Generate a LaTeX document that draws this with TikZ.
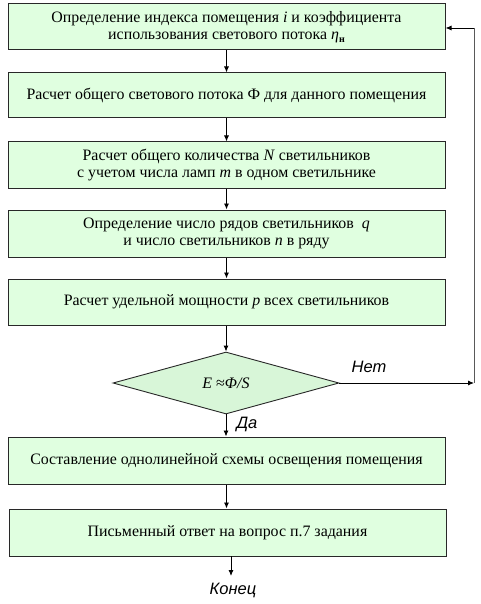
\documentclass[tikz,border=0pt]{standalone}
\usepackage{fontspec}
\setmainfont{Liberation Serif}
\setsansfont{Liberation Sans}
\usetikzlibrary{shapes.geometric,arrows.meta}
\definecolor{boxfill}{RGB}{224,255,224}
\definecolor{dfill}{RGB}{216,246,216}
\definecolor{edge}{RGB}{40,40,40}
\tikzset{
  stepbox/.style={draw=edge, line width=1pt, fill=boxfill, minimum width=437pt, inner sep=0pt, align=center, font=\fontsize{15.9}{17.5}\selectfont},
  decide/.style={draw=edge, line width=0.9pt, fill=dfill, shape=diamond, minimum width=226pt, minimum height=62pt, inner sep=0pt, font=\fontsize{16}{18}\selectfont},
  conn/.style={line width=0.9pt, draw=black, -{Latex[length=6pt,width=5pt]}},
  lbl/.style={font=\sffamily\itshape\fontsize{16.5}{18}\selectfont},
}
\begin{document}
\begin{tikzpicture}[x=1pt,y=-1pt]
\useasboundingbox (0,0) rectangle (480,604);
\node[stepbox, minimum height=46pt] (b1) at (226.5,27) {Определение индекса помещения \textit{i} и коэффициента\\использования светового потока \textit{η}\raisebox{-0.35ex}{\fontsize{10}{11}\selectfont\bfseries н}};
\node[stepbox, minimum height=45pt] (b2) at (226.5,95.5) {Расчет общего светового потока Ф для данного помещения};
\node[stepbox, minimum height=46pt] (b3) at (226.5,165) {Расчет общего количества \textit{N} светильников\\с учетом числа ламп \textit{m} в одном светильнике};
\node[stepbox, minimum height=47pt] (b4) at (226.5,233.5) {Определение число рядов светильников \ \textit{q}\\и число светильников \textit{n} в ряду};
\node[stepbox, minimum height=46pt] (b5) at (226.5,302) {Расчет удельной мощности \textit{p} всех светильников};
\node[decide] (d) at (226,383) {\textit{E} ≈\textit{Φ/S}};
\node[stepbox, minimum height=47pt] (b6) at (226.5,460.5) {Составление однолинейной схемы освещения помещения};
\node[stepbox, minimum height=47pt] (b7) at (227.5,532.5) {Письменный ответ на вопрос п.7 задания};
\node[lbl] (end) at (233,590) {Конец};
\node[lbl] (no) at (369,367) {Нет};
\node[lbl] (yes) at (247,424) {Да};
\coordinate (r1) at (474,383);
\coordinate (r2) at (474,28);
\coordinate (e1) at (231,556);
\coordinate (e2) at (231,576);
\draw[conn] (b1) -- (b2);
\draw[conn] (b2) -- (b3);
\draw[conn] (b3) -- (b4);
\draw[conn] (b4) -- (b5);
\draw[conn] (b5.south -| d.north) -- (d.north);
\draw[conn] (d.south) -- (d.south |- b6.north);
\draw[conn] (b6.south) -- (b6.south |- b7.north);
\draw[conn] (e1) -- (e2);
\draw[conn] (d.east) -- (r1);
\draw[line width=0.9pt, draw=gray!70!black] (r1) -- (r2);
\draw[conn] (r2) -- (r2 -| b1.east);
\end{tikzpicture}
\end{document}
